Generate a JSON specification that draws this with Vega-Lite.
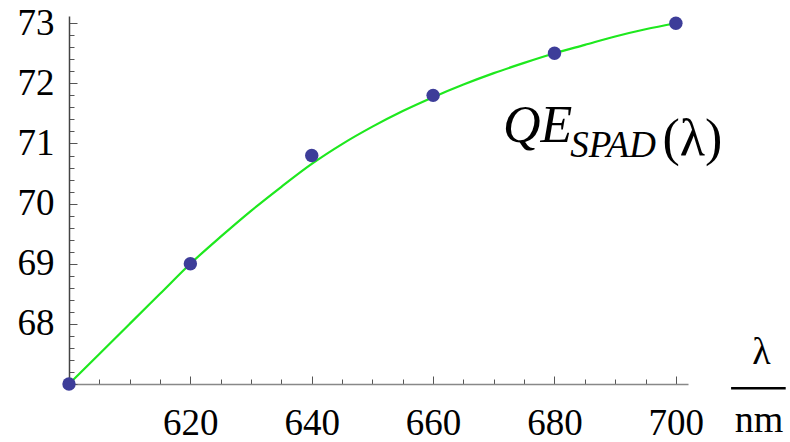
{
  "$schema": "https://vega.github.io/schema/vega-lite/v6.json",
  "width": 619,
  "height": 368,
  "autosize": {"type": "none"},
  "padding": {"left": 69, "top": 16, "right": 102, "bottom": 58},
  "config": {"view": {"stroke": null}, "font": "serif"},
  "datasets": {
    "pts": [
      {"wavelength": 600, "qe": 67.0},
      {"wavelength": 620, "qe": 69.0},
      {"wavelength": 640, "qe": 70.8},
      {"wavelength": 660, "qe": 71.8},
      {"wavelength": 680, "qe": 72.5},
      {"wavelength": 700, "qe": 73.0}
    ],
    "fit": [
      {"wavelength": 600, "qe": 67.0},
      {"wavelength": 605, "qe": 67.5},
      {"wavelength": 610, "qe": 68.0},
      {"wavelength": 615, "qe": 68.5},
      {"wavelength": 620, "qe": 69.0},
      {"wavelength": 625, "qe": 69.45},
      {"wavelength": 630, "qe": 69.88},
      {"wavelength": 635, "qe": 70.28},
      {"wavelength": 640, "qe": 70.66},
      {"wavelength": 645, "qe": 70.99},
      {"wavelength": 650, "qe": 71.28},
      {"wavelength": 655, "qe": 71.54},
      {"wavelength": 660, "qe": 71.77},
      {"wavelength": 665, "qe": 71.98},
      {"wavelength": 670, "qe": 72.17},
      {"wavelength": 675, "qe": 72.34},
      {"wavelength": 680, "qe": 72.5},
      {"wavelength": 685, "qe": 72.64},
      {"wavelength": 690, "qe": 72.78},
      {"wavelength": 695, "qe": 72.9},
      {"wavelength": 700, "qe": 73.0}
    ]
  },
  "layer": [
    {
      "data": {"name": "fit"},
      "mark": {"type": "line", "color": "#1ee81e", "strokeWidth": 2.2, "interpolate": "monotone"},
      "encoding": {
        "x": {
          "field": "wavelength", "type": "quantitative",
          "scale": {"domain": [600, 702], "nice": false, "zero": false},
          "axis": {
            "title": null,
            "tickCount": 100,
            "values": [600, 605, 610, 615, 620, 625, 630, 635, 640, 645, 650, 655, 660, 665, 670, 675, 680, 685, 690, 695, 700],
            "labelExpr": "datum.value % 20 === 0 && datum.value > 600 ? datum.label : ''",
            "labelFontSize": 37, "labelColor": "black", "labelFont": "serif",
            "labelFlush": false, "labelOverlap": false, "labelPadding": 29, "labelBaseline": "top",
            "tickSize": {"condition": {"test": "datum.value % 20 === 0", "value": -8}, "value": -5},
            "tickColor": "#555", "domainColor": "#888", "domainWidth": 1.5, "grid": false
          }
        },
        "y": {
          "field": "qe", "type": "quantitative",
          "scale": {"domain": [67, 73.12], "nice": false, "zero": false},
          "axis": {
            "title": null,
            "tickCount": 100,
            "values": [67, 67.2, 67.4, 67.6, 67.8, 68, 68.2, 68.4, 68.6, 68.8, 69, 69.2, 69.4, 69.6, 69.8, 70, 70.2, 70.4, 70.6, 70.8, 71, 71.2, 71.4, 71.6, 71.8, 72, 72.2, 72.4, 72.6, 72.8, 73],
            "labelExpr": "abs(datum.value - round(datum.value)) < 0.01 && datum.value > 67.5 ? format(datum.value, 'd') : ''",
            "labelFontSize": 37, "labelColor": "black", "labelFont": "serif",
            "labelFlush": false, "labelOverlap": false, "labelPadding": 23,
            "tickSize": {"condition": {"test": "abs(datum.value - round(datum.value)) < 0.01", "value": -8}, "value": -5},
            "tickColor": "#555", "domainColor": "#444", "domainWidth": 1.5, "grid": false
          }
        }
      }
    },
    {
      "data": {"name": "pts"},
      "mark": {"type": "circle", "size": 180, "color": "#3d3d99", "opacity": 1},
      "encoding": {
        "x": {"field": "wavelength", "type": "quantitative"},
        "y": {"field": "qe", "type": "quantitative"}
      }
    },
    {
      "data": {"values": [{}]},
      "mark": {"type": "text", "fontSize": 52, "fontStyle": "italic", "align": "left", "baseline": "alphabetic", "font": "serif", "color": "black"},
      "encoding": {"x": {"datum": 671.5}, "y": {"datum": 71.02}, "text": {"value": "QE"}}
    },
    {
      "data": {"values": [{}]},
      "mark": {"type": "text", "fontSize": 37, "fontStyle": "italic", "align": "left", "baseline": "alphabetic", "font": "serif", "color": "black"},
      "encoding": {"x": {"datum": 682.6}, "y": {"datum": 70.77}, "text": {"value": "SPAD"}}
    },
    {
      "data": {"values": [{}]},
      "mark": {"type": "text", "fontSize": 52, "align": "left", "baseline": "alphabetic", "font": "serif", "color": "black"},
      "encoding": {"x": {"datum": 697.8}, "y": {"datum": 70.81}, "text": {"value": "(λ)"}}
    },
    {
      "data": {"values": [{}]},
      "mark": {"type": "text", "fontSize": 38, "align": "center", "baseline": "alphabetic", "font": "serif", "color": "black"},
      "encoding": {"x": {"datum": 714.1}, "y": {"datum": 67.33}, "text": {"value": "λ"}}
    },
    {
      "data": {"values": [{}]},
      "mark": {"type": "rule", "color": "black", "strokeWidth": 2.5},
      "encoding": {"x": {"datum": 709.1}, "x2": {"datum": 718.1}, "y": {"datum": 66.93}}
    },
    {
      "data": {"values": [{}]},
      "mark": {"type": "text", "fontSize": 38, "align": "center", "baseline": "alphabetic", "font": "serif", "color": "black"},
      "encoding": {"x": {"datum": 713.7}, "y": {"datum": 66.2}, "text": {"value": "nm"}}
    }
  ]
}
